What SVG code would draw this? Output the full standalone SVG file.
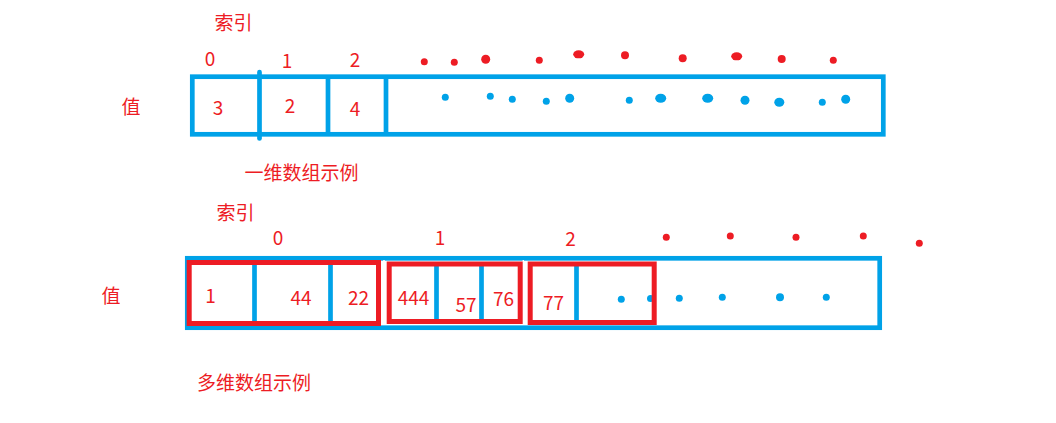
<svg xmlns="http://www.w3.org/2000/svg" width="1056" height="423" viewBox="0 0 1056 423">
<style>
.t{font-family:"Noto Sans CJK SC","Noto Sans",sans-serif;fill:#ed1c24;text-anchor:middle}
.cj{font-size:19px}
.d{font-size:19px}
.b{fill:none;stroke:#00a2e8;stroke-width:4.7}
.bl{stroke:#00a2e8;stroke-width:4.7;stroke-linecap:round}
.r{fill:none;stroke:#ed1c24;stroke-width:5}
.rd{fill:#ed1c24}
.bd{fill:#00a2e8}
</style>
<rect width="1056" height="423" fill="#fff"/>
<g id="array1">
  <rect class="b" x="192.3" y="76.7" width="691" height="57.6"/>
  <line class="bl" x1="259.5" y1="72" x2="259.5" y2="138.5"/>
  <line class="bl" x1="328" y1="77" x2="328" y2="134" style="stroke-linecap:butt"/>
  <line class="bl" x1="386" y1="77" x2="386" y2="134" style="stroke-linecap:butt"/>
</g>
<g id="labels1">
  <text class="t cj" x="233.5" y="30">索引</text>
  <text class="t d" x="210" y="66">0</text>
  <text class="t d" x="287" y="68">1</text>
  <text class="t d" x="355" y="67">2</text>
  <text class="t cj" x="131" y="113.5">值</text>
  <text class="t d" x="218" y="115">3</text>
  <text class="t d" x="290" y="113">2</text>
  <text class="t d" x="355" y="116">4</text>
  <text class="t cj" x="301.5" y="180">一维数组示例</text>
</g>
<g id="dots1">
  <circle class="rd" cx="424.3" cy="61.7" r="3.5"/>
  <circle class="rd" cx="454.3" cy="62.3" r="3.5"/>
  <circle class="rd" cx="485.7" cy="59.3" r="4.5"/>
  <circle class="rd" cx="539.3" cy="60.3" r="3.5"/>
  <ellipse class="rd" cx="578.7" cy="54.3" rx="5.5" ry="4"/>
  <circle class="rd" cx="625" cy="55.3" r="4"/>
  <circle class="rd" cx="682.7" cy="58.3" r="4"/>
  <ellipse class="rd" cx="736.7" cy="56.3" rx="5.5" ry="4"/>
  <circle class="rd" cx="781.7" cy="59" r="4"/>
  <circle class="rd" cx="833.3" cy="60.3" r="3.5"/>
  <circle class="bd" cx="445.3" cy="97.3" r="3.5"/>
  <circle class="bd" cx="490.3" cy="96.3" r="3.5"/>
  <circle class="bd" cx="512.3" cy="99.3" r="3.5"/>
  <circle class="bd" cx="546.3" cy="101.3" r="3.5"/>
  <circle class="bd" cx="569.7" cy="98.3" r="4.5"/>
  <circle class="bd" cx="629.3" cy="100.3" r="3.5"/>
  <ellipse class="bd" cx="660.7" cy="98.3" rx="5.5" ry="4.5"/>
  <ellipse class="bd" cx="707.7" cy="98.3" rx="5.5" ry="4.5"/>
  <circle class="bd" cx="745" cy="100.3" r="4.5"/>
  <ellipse class="bd" cx="779.3" cy="102.3" rx="5" ry="4.5"/>
  <circle class="bd" cx="822.3" cy="102.3" r="3.5"/>
  <circle class="bd" cx="845.7" cy="99.3" r="4.5"/>
</g>
<g id="array2">
  <rect class="b" x="187.3" y="258.3" width="692.4" height="69.4"/>
  <line x1="384" y1="260" x2="384" y2="324" stroke="#fff" stroke-width="1.6"/>
  <line x1="523.3" y1="260" x2="523.3" y2="324" stroke="#fff" stroke-width="1.4"/>
  <line class="bl" x1="254.5" y1="263" x2="254.5" y2="323" style="stroke-linecap:butt"/>
  <line class="bl" x1="330.5" y1="263" x2="330.5" y2="323" style="stroke-linecap:butt"/>
  <line class="bl" x1="436.5" y1="264" x2="436.5" y2="322" style="stroke-linecap:butt"/>
  <line class="bl" x1="481.5" y1="264" x2="481.5" y2="322" style="stroke-linecap:butt"/>
  <line class="bl" x1="576.5" y1="264" x2="576.5" y2="322" style="stroke-linecap:butt"/>
  <circle class="bd" cx="650.5" cy="298.5" r="3.5"/>
</g>
<g id="group0">
  <rect class="r" x="189.2" y="262.5" width="189.3" height="61"/>
</g>
<g id="group1">
  <rect class="r" x="389.2" y="264" width="131" height="57.5"/>
</g>
<g id="group2">
  <rect class="r" x="530.2" y="264" width="124" height="58.5"/>
</g>
<g id="labels2">
  <text class="t cj" x="235.5" y="220">索引</text>
  <text class="t d" x="278" y="245">0</text>
  <text class="t d" x="440" y="245">1</text>
  <text class="t d" x="570.5" y="246">2</text>
  <text class="t cj" x="111" y="303">值</text>
  <text class="t d" x="210.5" y="303">1</text>
  <text class="t d" x="301" y="305">44</text>
  <text class="t d" x="358.5" y="305">22</text>
  <text class="t d" x="413.5" y="305">444</text>
  <text class="t d" x="466" y="312">57</text>
  <text class="t d" x="503.5" y="306">76</text>
  <text class="t d" x="553.5" y="310">77</text>
  <text class="t cj" x="254" y="390">多维数组示例</text>
</g>
<g id="dots2">
  <circle class="rd" cx="666.3" cy="237.3" r="3.5"/>
  <circle class="rd" cx="730.3" cy="236" r="3.5"/>
  <circle class="rd" cx="796" cy="237.3" r="3.5"/>
  <circle class="rd" cx="863.3" cy="236" r="3.5"/>
  <circle class="rd" cx="919.3" cy="243.3" r="3.5"/>
  <circle class="bd" cx="621.3" cy="299.3" r="3.5"/>
  <circle class="bd" cx="679.3" cy="298.3" r="3.5"/>
  <circle class="bd" cx="722.3" cy="297.3" r="3.5"/>
  <circle class="bd" cx="780" cy="297.3" r="4"/>
  <circle class="bd" cx="826.3" cy="297.3" r="3.5"/>
</g>
</svg>
